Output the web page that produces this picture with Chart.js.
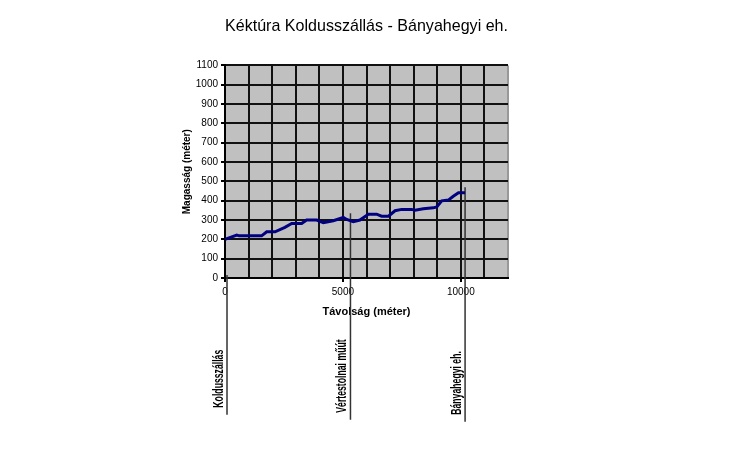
<!DOCTYPE html>
<html>
<head>
<meta charset="utf-8">
<script src="https://cdn.jsdelivr.net/npm/chart.js@4/dist/chart.umd.min.js"></script>
<style>
  body { margin: 0; background: #fff; }
</style>
</head>
<body>
<canvas id="profile-chart" width="740" height="461"></canvas>
<script>
// elevation profile
const distance = [0, 500, 600, 1550, 1770, 2120, 2540, 2830, 3250, 3460, 3890, 4170, 4590, 5020, 5160, 5440, 5720, 6080, 6430, 6640, 6930, 7210, 7490, 7910, 8060, 8410, 8830, 8980, 9190, 9470, 9680, 9900, 10180];
const elevation = [200, 222, 218, 218, 239, 239, 262, 282, 282, 300, 300, 286, 296, 313, 303, 291, 300, 330, 330, 320, 320, 348, 355, 355, 351, 358, 363, 368, 399, 403, 423, 441, 441];

// waypoints along the route
const markerNames = ['Koldusszállás', 'Vértestolnai műút', 'Bányahegyi eh.'];
const markerDist = [85, 5320, 10180];
const markerTop = [15, 335, 470];
const markerBottom = [-707, -733, -744];

const font = 'Liberation Sans, Arial, sans-serif';

const markerSets = markerNames.map((name, i) => ({
  label: name,
  data: [{x: markerDist[i], y: markerTop[i]}, {x: markerDist[i], y: markerBottom[i]}],
  borderColor: '#333',
  borderWidth: 1.5,
  pointRadius: 0,
  clip: false
}));

const plotBg = {
  id: 'plotBg',
  beforeDraw(chart) {
    const a = chart.chartArea;
    const ctx = chart.ctx;
    ctx.save();
    ctx.fillStyle = '#c0c0c0';
    ctx.fillRect(a.left, a.top, a.right - a.left, a.bottom - a.top);
    ctx.restore();
  }
};

const markerLabels = {
  id: 'markerLabels',
  afterDatasetsDraw(chart) {
    const ctx = chart.ctx;
    const xs = chart.scales.x, ys = chart.scales.y;
    ctx.save();
    ctx.fillStyle = '#000';
    ctx.font = 'bold 14px ' + font;
    ctx.textAlign = 'left';
    ctx.textBaseline = 'bottom';
    markerNames.forEach((name, i) => {
      const px = xs.getPixelForValue(markerDist[i]);
      const py = ys.getPixelForValue(markerBottom[i]);
      ctx.save();
      ctx.translate(px - 1, py - 7);
      ctx.rotate(-Math.PI / 2);
      ctx.scale(0.62, 1);
      ctx.fillText(name, 0, 0);
      ctx.restore();
    });
    ctx.restore();
  }
};

new Chart(document.getElementById('profile-chart'), {
  type: 'line',
  data: {
    datasets: [{
      label: 'Magasság',
      data: distance.map((d, i) => ({x: d, y: elevation[i]})),
      borderColor: '#000080',
      borderWidth: 3,
      pointRadius: 0,
      tension: 0
    }].concat(markerSets)
  },
  options: {
    responsive: false,
    animation: false,
    layout: {
      padding: {left: 0, right: 232, top: 0, bottom: 138}
    },
    scales: {
      x: {
        type: 'linear',
        min: 0,
        max: 12000,
        afterFit(scale) { scale.height = 45; },
        ticks: {
          stepSize: 1000,
          autoSkip: false,
          maxRotation: 0,
          padding: 4,
          color: '#000',
          font: {family: font, size: 10},
          callback: v => (v % 5000 === 0 ? String(v) : '')
        },
        grid: {
          color: ctx => (ctx.tick && ctx.tick.value >= 12000 ? '#999' : '#111'),
          lineWidth: 2,
          tickLength: 4,
          tickColor: ctx => (ctx.tick && ctx.tick.value % 5000 === 0 ? '#000' : 'rgba(0,0,0,0)')
        },
        border: {color: '#000', width: 2},
        title: {
          display: true,
          text: 'Távolság (méter)',
          color: '#000',
          font: {family: font, size: 11, weight: 'bold'},
          padding: {top: 0, bottom: 4}
        }
      },
      y: {
        min: 0,
        max: 1100,
        afterFit(scale) { scale.width = 225; },
        ticks: {
          stepSize: 100,
          padding: 3,
          color: '#000',
          font: {family: font, size: 10},
          callback: v => String(v)
        },
        grid: {
          color: '#111',
          lineWidth: 2,
          tickLength: 4,
          tickColor: '#000'
        },
        border: {color: '#000', width: 2},
        title: {
          display: true,
          text: 'Magasság (méter)',
          color: '#000',
          font: {family: font, size: 10, weight: 'bold'},
          padding: {top: 181, bottom: 0}
        }
      }
    },
    plugins: {
      legend: {
        display: false
      },
      tooltip: {
        enabled: false
      },
      title: {
        display: true,
        fullSize: false,
        text: 'Kéktúra Koldusszállás - Bányahegyi eh.',
        color: '#000',
        font: {family: font, size: 17, weight: 'normal'},
        padding: {top: 16, bottom: 29}
      }
    }
  },
  plugins: [plotBg, markerLabels]
});
</script>
</body>
</html>
